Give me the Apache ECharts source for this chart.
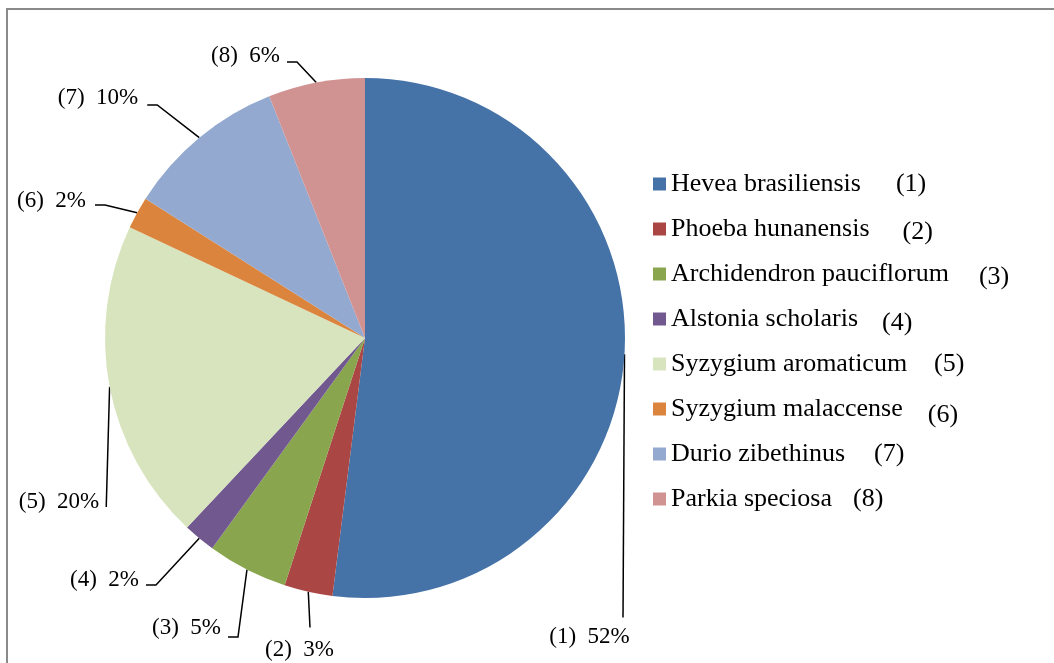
<!DOCTYPE html>
<html lang="en">

<head>
  <meta charset="UTF-8">
  <script src="https://cdn.jsdelivr.net/npm/echarts@6/dist/echarts.min.js"></script>
  <title>Pie</title>
  <style>
    html,
    body {
      height: 100%;
      width: 100%;
      padding: 0;
      margin: 0;
      background: #fff;
    }

    main {
      position: absolute;
      left: 0;
      top: 0;
      width: 1054px;
      height: 663px;
    }

    .frame {
      position: absolute;
      left: 6px;
      top: 8px;
      width: 1060px;
      height: 670px;
      border-top: 2px solid #8a8a8a;
      border-left: 2px solid #8a8a8a;
      pointer-events: none;
    }
  </style>
</head>

<body>
  <main></main>
  <div class="frame"></div>
</body>
<script>
  const species = [
    'Hevea brasiliensis',
    'Phoeba hunanensis',
    'Archidendron pauciflorum',
    'Alstonia scholaris',
    'Syzygium aromaticum',
    'Syzygium malaccense',
    'Durio zibethinus',
    'Parkia speciosa'
  ]
  const shares = [52, 3, 5, 2, 20, 2, 10, 6]
  const colors = ['#4572A7', '#AA4643', '#89A54E', '#71588F', '#D7E4BD', '#DB843D', '#93A9CF', '#D19392']

  // excel labels were dragged by hand: box centres, invisible padding (so the
  // leader line hits the right edge point) and the last leader segment
  const labelPos = [[623, 633], [310, 644.5], [170, 637], [108, 585], [37.5, 507], [56, 205], [102.5, 105], [249, 62]]
  const labelPad = [[8, 67, 0, 0], [11, 21, 0, 0], [0, 7, 18, 40], [0, 7, 10, 0], [0, 7, 10, 50], [0, 9, 8, 0], [0, 9, 14, 0], [0, 7, 12, 0]]
  const leaderTail = [0, 0, 10, 10, 0, 10, 10, 10]
  // legend: space between name and its (n), and how far the (n) sits lower
  const numGap = [35, 33, 30, 24, 27, 25, 29, 21]
  const numDrop = [0, 3, 3, 4, 0, 6, 0, 0]

  const font = 'Liberation Serif'

  const rich = {
    n: { fontSize: 26, lineHeight: 26, fontFamily: font, color: '#000' }
  }
  numGap.forEach((g, i) => {
    rich['g' + i] = {
      fontSize: 26,
      lineHeight: 26,
      fontFamily: font,
      color: '#000',
      backgroundColor: 'rgba(255,255,255,0)',
      padding: [6 + numDrop[i], 0, 6 - numDrop[i], g]
    }
  })

  const labelRich = {}
  labelPad.forEach((p, i) => {
    labelRich['t' + i] = {
      fontSize: 23,
      lineHeight: 24,
      fontFamily: font,
      color: '#000',
      backgroundColor: 'rgba(255,255,255,0)',
      padding: p
    }
  })

  const option = {
    color: colors,
    animation: false,
    legend: {
      orient: 'vertical',
      left: 648,
      top: 160,
      itemWidth: 13,
      itemHeight: 13,
      itemGap: 7,
      icon: 'rect',
      data: species,
      formatter: (name) => {
        const i = species.indexOf(name)
        return `{n|${name}}{g${i}|(${i + 1})}`
      },
      textStyle: {
        fontFamily: font,
        fontSize: 26,
        color: '#000',
        rich: rich
      }
    },
    series: [
      {
        type: 'pie',
        center: [365, 338],
        radius: 260,
        startAngle: 90,
        clockwise: true,
        data: species.map((name, i) => ({
          name: name,
          value: shares[i],
          label: { width: (shares[i] >= 10 ? 80.5 : 69) + labelPad[i][1] + labelPad[i][3] },
          labelLine: { length2: leaderTail[i] }
        })),
        label: {
          show: true,
          position: 'outside',
          formatter: (p) => `{t${p.dataIndex}|(${p.dataIndex + 1})  ${p.value}%}`,
          rich: labelRich,
          fontFamily: font,
          fontSize: 23,
          color: '#000',
          align: 'center',
          overflow: 'none'
        },
        labelLine: {
          show: true,
          length: 10,
          length2: 10,
          minTurnAngle: 60,
          lineStyle: {
            color: '#000',
            width: 1.5
          }
        },
        labelLayout: (params) => ({
          x: labelPos[params.dataIndex][0],
          y: labelPos[params.dataIndex][1],
          align: 'center',
          verticalAlign: 'middle'
        }),
        itemStyle: {
          borderWidth: 0
        },
        emphasis: { disabled: true }
      }
    ]
  }
  const ins = echarts.init(document.getElementsByTagName('main')[0])
  ins.setOption(option)
</script>

</html>
